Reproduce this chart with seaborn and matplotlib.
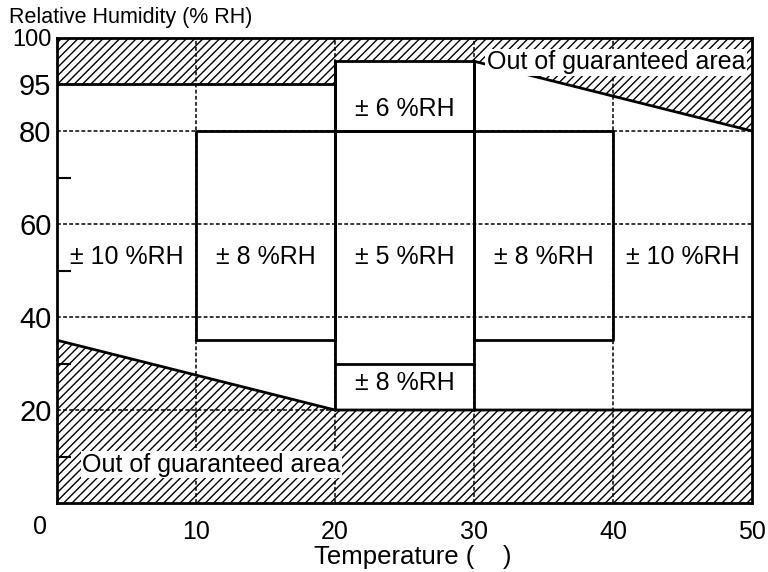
import numpy as np
import pandas as pd
import seaborn as sns
import matplotlib
matplotlib.use("Agg")
import matplotlib.pyplot as plt

# Zone labels (accuracy) and where they sit
zone_labels = ["± 10 %RH", "± 8 %RH", "± 5 %RH", "± 8 %RH", "± 10 %RH", "± 6 %RH", "± 8 %RH"]
zone_temp = [5, 15, 25, 35, 45, 25, 25]
zone_rh = [53, 53, 53, 53, 53, 87, 25.8]

# Boundary lines (temperature, RH) per segment
seg_temp = [
    [10, 10, 40, 40, 30, 30, 20, 20, 10],   # outline of +-8/+-5 boxes
    [20, 20],
    [30, 30],
    [20, 20, 30, 30],                       # +-6 box top
    [0, 20],                                # top-left hatch edge
    [0, 20, 50],                            # lower hatch edge
    [30, 36.67, 50],                        # upper-right hatch edge
    [20, 30],                               # +-8 box (bottom) top
]
seg_rh = [
    [35, 80, 80, 35, 35, 80, 80, 35, 35],
    [20, 97.5],
    [20, 97.5],
    [80, 97.5, 97.5, 80],
    [95, 95],
    [35, 20, 20],
    [97.5, 95, 80],
    [30, 30],
]

# Out-of-guaranteed hatched areas
hatch_temp = [[0, 20, 20, 0], [20, 30, 30, 20], [30, 30, 36.67, 50, 50], [0, 0, 20, 50, 50]]
hatch_rh = [[95, 95, 100, 100], [97.5, 97.5, 100, 100], [100, 97.5, 95, 80, 100], [0, 35, 20, 20, 0]]

ytick_vals = [20, 40, 60, 80, 95, 100]
xtick_vals = [10, 20, 30, 40, 50]

sns.set_theme(style="white")
plt.rcParams["font.family"] = ["Liberation Sans", "DejaVu Sans"]
plt.rcParams["text.color"] = "black"
plt.rcParams["xtick.color"] = "black"
plt.rcParams["ytick.color"] = "black"
plt.rcParams["hatch.linewidth"] = 1.0

fig = plt.figure(figsize=(7.68, 5.72), dpi=100)
ax = fig.add_axes([57/768, 1 - 503/572, (752-57)/768, (503-38)/572])
ax.set_axisbelow(False)

# piecewise y axis: 80-95 and 95-100 are stretched
vb = [-100, 0, 80, 95, 100, 200]
db = [-100, 0, 80, 90, 100, 200]
ax.set_yscale("function", functions=(lambda v: np.interp(v, vb, db),
                                     lambda d: np.interp(d, db, vb)))
ax.set_xlim(0, 50)
ax.set_ylim(0, 100)

for ht, hr in zip(hatch_temp, hatch_rh):
    ax.fill(ht, hr, facecolor="white", edgecolor="black", hatch="////", lw=0, zorder=1)

for t in [10, 20, 30, 40]:
    ax.axvline(t, color="black", lw=1.1, ls=(0, (2.5, 1.5)), zorder=2)
for r in [20, 40, 60, 80]:
    ax.axhline(r, color="black", lw=1.1, ls=(0, (2.5, 1.5)), zorder=2)

rows = []
for i, (ts, rs) in enumerate(zip(seg_temp, seg_rh)):
    for k, (t, r) in enumerate(zip(ts, rs)):
        rows.append({"temp": t, "rh": r, "seg": i, "order": k})
df = pd.DataFrame(rows)
sns.lineplot(data=df, x="temp", y="rh", units="seg", estimator=None, sort=False,
             color="black", lw=2, ax=ax, zorder=3)

for lab, t, r in zip(zone_labels, zone_temp, zone_rh):
    ax.text(t, r, lab, ha="center", va="center", fontsize=18, zorder=5)

box = dict(facecolor="white", edgecolor="none", pad=1)
ax.text(40.2, 97.4, "Out of guaranteed area", ha="center", va="center",
        fontsize=18, bbox=box, zorder=5)
ax.text(11.1, 8.2, "Out of guaranteed area", ha="center", va="center",
        fontsize=18, bbox=box, zorder=5)

ax.set_yticks(ytick_vals)
ax.set_yticklabels([str(v) for v in ytick_vals], fontsize=21)
ax.get_yticklabels()[-1].set_fontsize(17)
ax.set_yticks([10, 30, 50, 70], minor=True)
ax.tick_params(axis="y", which="major", length=0, pad=4)
ax.tick_params(axis="y", which="minor", direction="in", length=10, width=1.5,
               color="black", left=True)
ax.set_xticks(xtick_vals)
ax.set_xticklabels([str(v) for v in xtick_vals], fontsize=18)
ax.tick_params(axis="x", length=0, pad=12)
ax.set_xlabel("")
ax.set_ylabel("")

for s in ax.spines.values():
    s.set_color("black")
    s.set_linewidth(2)
    s.set_zorder(6)

fig.text(40/768, 1 - 527/572, "0", fontsize=18, va="center", ha="center")
fig.text(9/768, 1 - 18/572, "Relative Humidity (% RH)", fontsize=15.5, va="center", ha="left")
fig.text(413/768, 1 - 557/572, "Temperature (    )", fontsize=18.5, va="center", ha="center")

fig.savefig("out.png", dpi=100)
